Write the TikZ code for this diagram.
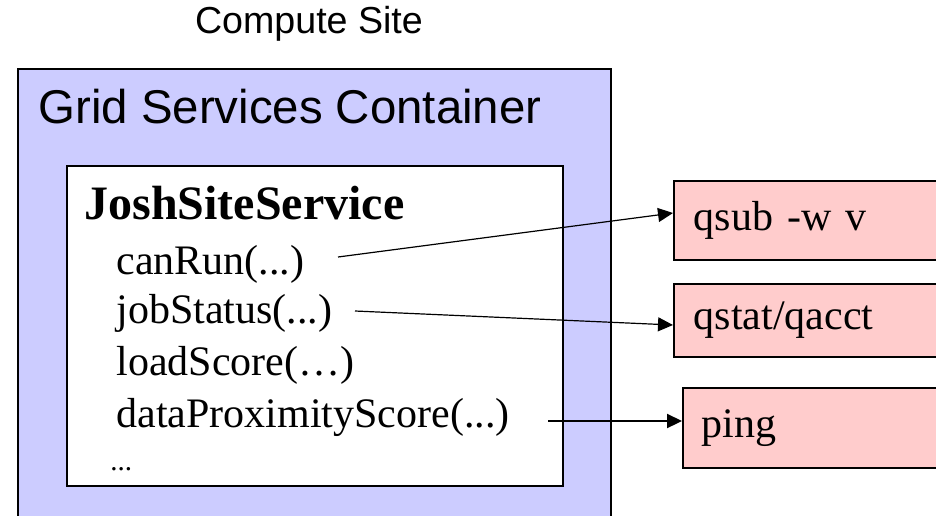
\documentclass[tikz,border=0pt]{standalone}
\usepackage{fontspec}
\setmainfont{Liberation Serif}
\newfontfamily\arialfont{Liberation Sans}
\usetikzlibrary{arrows.meta,calc}

\definecolor{gscblue}{RGB}{204,204,255}
\definecolor{cmdpink}{RGB}{255,204,204}

\tikzset{
  frame/.style={draw=black, line width=0.8pt, rectangle, inner sep=0pt},
  cmdbox/.style={frame, fill=cmdpink, anchor=west, align=left, inner xsep=10pt,
    text width=123pt, font=\fontsize{21}{25}\selectfont},
  method/.style={anchor=base west, inner sep=0pt, font=\fontsize{21}{25}\selectfont},
  call/.style={-{Triangle[length=7.5pt,width=7pt]}, line width=0.6pt},
}

\begin{document}
\begin{tikzpicture}[x=0.5pt,y=-0.5pt]
  \useasboundingbox (0,0) rectangle (936,515);
  \clip (0,0) rectangle (936,515);

  \node[anchor=base, font=\arialfont\fontsize{18.8}{22}\selectfont] (site) at (309,33) {Compute Site};

  % container and service
  \node[frame, fill=gscblue, anchor=north west, minimum width=296.5pt, minimum height=240pt] (gsc) at (17,68) {};
  \node[anchor=base west, inner sep=0pt, font=\arialfont\fontsize{23.7}{28}\selectfont] (gsclabel) at (38,123) {Grid Services Container};

  \node[frame, fill=white, anchor=north west, minimum width=248pt, minimum height=160pt] (jss) at (66,165) {};
  \node[method, font=\bfseries\fontsize{24}{28}\selectfont] (jsslabel) at (84,219) {JoshSiteService};
  \node[method] (canrun) at (116,274) {canRun(...)};
  \node[method] (jobstatus) at (116,323) {jobStatus(...)};
  \node[method] (loadscore) at (116,375) {loadScore(…)};
  \node[method] (dataprox) at (116,427) {dataProximityScore(...)};
  \node[method, font=\fontsize{14.5}{17}\selectfont] (more) at (110,470) {...};

  % commands
  \node[cmdbox, minimum height=39.5pt] (qsub) at (673,220.5) {qsub -w v};
  \node[cmdbox, minimum height=36.5pt] (qstat) at (673,320.5) {qstat/qacct};
  \node[cmdbox, minimum height=40pt, inner xsep=9.5pt, text width=121pt] (ping) at (682,428) {ping};

  \coordinate (c1) at (338,257);
  \coordinate (c2) at (355,311);
  \coordinate (c3) at (548,421);

  \draw[call] (c1) -- ($(qsub.west)+(0,-7.5)$);
  \draw[call] (c2) -- ($(qstat.west)+(0,4.5)$);
  \draw[call, line width=1.1pt] (c3) -- ($(ping.west)+(0,-7)$);
\end{tikzpicture}
\end{document}
